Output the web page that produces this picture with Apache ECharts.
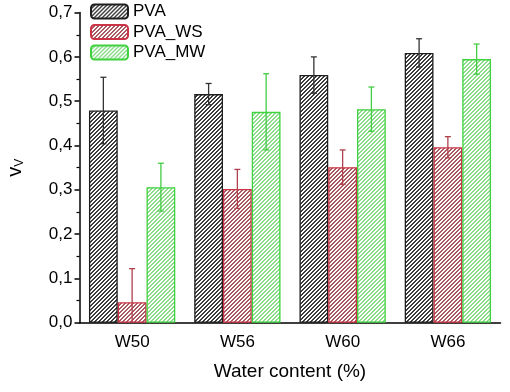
<!DOCTYPE html>
<html>
<head>
<meta charset="utf-8">
<script src="https://cdn.jsdelivr.net/npm/echarts@6/dist/echarts.min.js"></script>
<style>html,body{margin:0;padding:0;background:#fff}#c{width:510px;height:392px}</style>
</head>
<body>
<div id="c"></div>
<script>
var categories = ['W50', 'W56', 'W60', 'W66'];
var seriesNames = ['PVA', 'PVA_WS', 'PVA_MW'];
var pva = [0.479, 0.516, 0.559, 0.609];
var pvaErr = [0.075, 0.024, 0.041, 0.032];
var ws = [0.046, 0.302, 0.351, 0.396];
var wsErr = [0.076, 0.044, 0.039, 0.024];
var mw = [0.306, 0.476, 0.482, 0.595];
var mwErr = [0.054, 0.086, 0.050, 0.034];
var yTicks = [0, 0.1, 0.2, 0.3, 0.4, 0.5, 0.6, 0.7];

var FONT = 'Liberation Sans';
var CAT_GAP = 0.18;

function hatch(lineColor, thick) {
  var s = 4;
  var cv = document.createElement('canvas');
  cv.width = s; cv.height = s;
  var ctx = cv.getContext('2d');
  ctx.fillStyle = '#ffffff';
  ctx.fillRect(0, 0, s, s);
  ctx.fillStyle = lineColor;
  for (var i = 0; i < s; i++) {
    for (var t = 0; t < thick; t++) {
      ctx.fillRect((i + t) % s, s - 1 - i, 1, 1);
    }
  }
  return { image: cv, repeat: 'repeat' };
}

var styles = [
  { border: '#1e1e1e', hatch: '#3c3c3c', thick: 2, err: '#333333' },
  { border: '#cc3344', hatch: '#a85a60', thick: 2, err: '#b0404c' },
  { border: '#3fd23f', hatch: '#8cdc8c', thick: 2, err: '#44cc44' }
];
var values = [pva, ws, mw];
var errs = [pvaErr, wsErr, mwErr];

var series = [];
for (var i = 0; i < 3; i++) {
  series.push({
    name: seriesNames[i],
    type: 'bar',
    data: values[i],
    barGap: '0%',
    barCategoryGap: (CAT_GAP * 100) + '%',
    itemStyle: { color: hatch(styles[i].hatch, styles[i].thick), borderColor: styles[i].border, borderWidth: 1.3 }
  });
}
for (var j = 0; j < 3; j++) {
  (function (k) {
    var d = values[k].map(function (v, n) { return [n, v, errs[k][n]]; });
    series.push({
      type: 'custom',
      name: seriesNames[k] + '_err',
      z: 5,
      silent: true,
      encode: { x: 0, y: 1 },
      data: d,
      renderItem: function (params, api) {
        var x = api.value(0), v = api.value(1), e = api.value(2);
        var top = api.coord([x, v + e]);
        var bot = api.coord([x, Math.max(v - e, 0)]);
        var band = api.size([1, 0])[0];
        var barW = band * (1 - CAT_GAP) / 3;
        var cx = top[0] + (k - 1) * barW;
        var cap = 3;
        var st = { stroke: styles[k].err, lineWidth: 1.3 };
        var ch = [
          { type: 'line', shape: { x1: cx, y1: top[1], x2: cx, y2: bot[1] }, style: st },
          { type: 'line', shape: { x1: cx - cap, y1: top[1], x2: cx + cap, y2: top[1] }, style: st }
        ];
        if (v - e > 0) {
          ch.push({ type: 'line', shape: { x1: cx - cap, y1: bot[1], x2: cx + cap, y2: bot[1] }, style: st });
        }
        return { type: 'group', children: ch };
      }
    });
  })(j);
}

var chart = echarts.init(document.getElementById('c'), null, { renderer: 'canvas' });
chart.setOption({
  backgroundColor: '#ffffff',
  animation: false,
  textStyle: { fontFamily: FONT },
  grid: { left: 79.5, right: 9.5, top: 12.6, bottom: 69.3, containLabel: false, outerBoundsMode: 'none' },
  legend: {
    data: seriesNames,
    orient: 'vertical',
    left: 90, top: 3, padding: 0,
    itemWidth: 37, itemHeight: 14, itemGap: 3.5,
    textStyle: { fontFamily: FONT, fontSize: 17, color: '#000' },
    selectedMode: false
  },
  xAxis: [{
    type: 'category',
    data: categories,
    position: 'bottom',
    axisLine: { lineStyle: { color: '#000', width: 1.5 } },
    axisTick: { alignWithLabel: true, length: 5, lineStyle: { color: '#000', width: 1.5 } },
    axisLabel: { fontFamily: FONT, fontSize: 17, color: '#000', margin: 11 },
    name: 'Water content (%)',
    nameLocation: 'middle',
    nameGap: 40,
    nameTextStyle: { fontFamily: FONT, fontSize: 19, color: '#000' }
  }, {
    type: 'category',
    data: categories,
    position: 'bottom',
    axisLine: { show: false },
    axisTick: { alignWithLabel: false, length: 3, lineStyle: { color: '#000', width: 1.5 } },
    axisLabel: { show: false }
  }],
  yAxis: {
    type: 'value',
    min: yTicks[0], max: yTicks[yTicks.length - 1], interval: 0.1,
    splitLine: { show: false },
    axisLine: { show: true, lineStyle: { color: '#000', width: 1.5 } },
    axisTick: { show: true, length: 5, lineStyle: { color: '#000', width: 1.5 } },
    minorTick: { show: true, splitNumber: 2, length: 3, lineStyle: { color: '#000', width: 1.2 } },
    axisLabel: {
      fontFamily: FONT, fontSize: 17, color: '#000', margin: 7,
      formatter: function (v) { return v.toFixed(1).replace('.', ','); }
    },
    name: '{a|v}{b|V}',
    nameLocation: 'middle',
    nameRotate: 90,
    nameGap: 54,
    nameTextStyle: {
      rich: {
        a: { fontFamily: FONT, fontSize: 20, lineHeight: 20, padding: [0, 0, 4, 0], verticalAlign: 'top', color: '#000' },
        b: { fontFamily: FONT, fontSize: 12, lineHeight: 12, verticalAlign: 'bottom', color: '#000' }
      }
    }
  },
  series: series
});
</script>
</body>
</html>
